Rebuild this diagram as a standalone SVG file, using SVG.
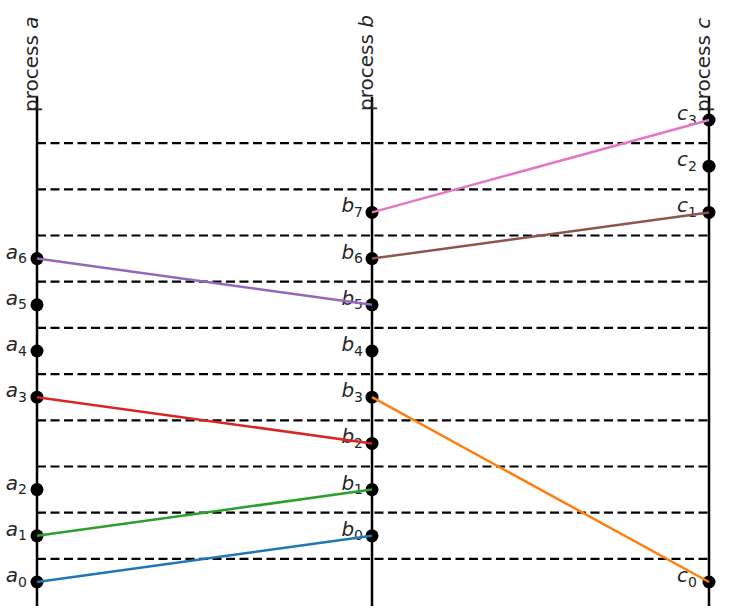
<svg xmlns="http://www.w3.org/2000/svg" width="744" height="616" viewBox="0 0 744 616">
<style>
.axis{stroke:#000;stroke-width:2.5;fill:none}
.dash{stroke:#000;stroke-width:2.2;stroke-dasharray:9,4.5;fill:none}
.msg{stroke-width:2.5;fill:none}
.dot{fill:#000}
.lbl{font-family:"DejaVu Sans",sans-serif;font-size:20px;fill:#262626;text-anchor:end}
.it{font-style:italic}
.sub{font-size:14px;font-style:normal}
.title{font-family:"DejaVu Sans",sans-serif;font-size:20px;fill:#262626}
</style>
<rect width="744" height="616" fill="#fff"/>
<g id="process-a">
<line class="axis" x1="37" y1="97" x2="37" y2="606"/>
<text class="title" transform="translate(38,112) rotate(-90)">process <tspan class="it">a</tspan></text>
</g>
<g id="process-b">
<line class="axis" x1="372" y1="97" x2="372" y2="606"/>
<text class="title" transform="translate(373,111) rotate(-90)">process <tspan class="it">b</tspan></text>
</g>
<g id="process-c">
<line class="axis" x1="709" y1="97" x2="709" y2="606"/>
<text class="title" transform="translate(710,112) rotate(-90)">process <tspan class="it">c</tspan></text>
</g>
<g id="time-slices">
<line class="dash" x1="37" y1="558.9" x2="709" y2="558.9"/>
<line class="dash" x1="37" y1="512.7" x2="709" y2="512.7"/>
<line class="dash" x1="37" y1="466.5" x2="709" y2="466.5"/>
<line class="dash" x1="37" y1="420.3" x2="709" y2="420.3"/>
<line class="dash" x1="37" y1="374.1" x2="709" y2="374.1"/>
<line class="dash" x1="37" y1="327.9" x2="709" y2="327.9"/>
<line class="dash" x1="37" y1="281.7" x2="709" y2="281.7"/>
<line class="dash" x1="37" y1="235.5" x2="709" y2="235.5"/>
<line class="dash" x1="37" y1="189.3" x2="709" y2="189.3"/>
<line class="dash" x1="37" y1="143.1" x2="709" y2="143.1"/>
</g>
<g id="events">
<g id="a0"><circle class="dot" cx="37" cy="582" r="6.5"/><text class="lbl" x="27" y="582"><tspan class="it">a</tspan><tspan class="sub" dy="4.5">0</tspan></text></g>
<g id="a1"><circle class="dot" cx="37" cy="535.8" r="6.5"/><text class="lbl" x="27" y="535.8"><tspan class="it">a</tspan><tspan class="sub" dy="4.5">1</tspan></text></g>
<g id="a2"><circle class="dot" cx="37" cy="489.6" r="6.5"/><text class="lbl" x="27" y="489.6"><tspan class="it">a</tspan><tspan class="sub" dy="4.5">2</tspan></text></g>
<g id="a3"><circle class="dot" cx="37" cy="397.2" r="6.5"/><text class="lbl" x="27" y="397.2"><tspan class="it">a</tspan><tspan class="sub" dy="4.5">3</tspan></text></g>
<g id="a4"><circle class="dot" cx="37" cy="351" r="6.5"/><text class="lbl" x="27" y="351"><tspan class="it">a</tspan><tspan class="sub" dy="4.5">4</tspan></text></g>
<g id="a5"><circle class="dot" cx="37" cy="304.8" r="6.5"/><text class="lbl" x="27" y="304.8"><tspan class="it">a</tspan><tspan class="sub" dy="4.5">5</tspan></text></g>
<g id="a6"><circle class="dot" cx="37" cy="258.6" r="6.5"/><text class="lbl" x="27" y="258.6"><tspan class="it">a</tspan><tspan class="sub" dy="4.5">6</tspan></text></g>
<g id="b0"><circle class="dot" cx="372" cy="535.8" r="6.5"/><text class="lbl" x="363" y="535.8"><tspan class="it">b</tspan><tspan class="sub" dy="4.5">0</tspan></text></g>
<g id="b1"><circle class="dot" cx="372" cy="489.6" r="6.5"/><text class="lbl" x="363" y="489.6"><tspan class="it">b</tspan><tspan class="sub" dy="4.5">1</tspan></text></g>
<g id="b2"><circle class="dot" cx="372" cy="443.4" r="6.5"/><text class="lbl" x="363" y="443.4"><tspan class="it">b</tspan><tspan class="sub" dy="4.5">2</tspan></text></g>
<g id="b3"><circle class="dot" cx="372" cy="397.2" r="6.5"/><text class="lbl" x="363" y="397.2"><tspan class="it">b</tspan><tspan class="sub" dy="4.5">3</tspan></text></g>
<g id="b4"><circle class="dot" cx="372" cy="351" r="6.5"/><text class="lbl" x="363" y="351"><tspan class="it">b</tspan><tspan class="sub" dy="4.5">4</tspan></text></g>
<g id="b5"><circle class="dot" cx="372" cy="304.8" r="6.5"/><text class="lbl" x="363" y="304.8"><tspan class="it">b</tspan><tspan class="sub" dy="4.5">5</tspan></text></g>
<g id="b6"><circle class="dot" cx="372" cy="258.6" r="6.5"/><text class="lbl" x="363" y="258.6"><tspan class="it">b</tspan><tspan class="sub" dy="4.5">6</tspan></text></g>
<g id="b7"><circle class="dot" cx="372" cy="212.4" r="6.5"/><text class="lbl" x="363" y="212.4"><tspan class="it">b</tspan><tspan class="sub" dy="4.5">7</tspan></text></g>
<g id="c0"><circle class="dot" cx="709" cy="582" r="6.5"/><text class="lbl" x="697" y="582"><tspan class="it">c</tspan><tspan class="sub" dy="4.5">0</tspan></text></g>
<g id="c1"><circle class="dot" cx="709" cy="212.4" r="6.5"/><text class="lbl" x="697" y="212.4"><tspan class="it">c</tspan><tspan class="sub" dy="4.5">1</tspan></text></g>
<g id="c2"><circle class="dot" cx="709" cy="166.2" r="6.5"/><text class="lbl" x="697" y="166.2"><tspan class="it">c</tspan><tspan class="sub" dy="4.5">2</tspan></text></g>
<g id="c3"><circle class="dot" cx="709" cy="120" r="6.5"/><text class="lbl" x="697" y="120"><tspan class="it">c</tspan><tspan class="sub" dy="4.5">3</tspan></text></g>
</g>
<g id="messages">
<line class="msg" stroke="#1f77b4" x1="37" y1="582" x2="372" y2="535.8"/>
<line class="msg" stroke="#2ca02c" x1="37" y1="535.8" x2="372" y2="489.6"/>
<line class="msg" stroke="#d62728" x1="37" y1="397.2" x2="372" y2="443.4"/>
<line class="msg" stroke="#ff7f0e" x1="372" y1="397.2" x2="709" y2="582"/>
<line class="msg" stroke="#9467bd" x1="37" y1="258.6" x2="372" y2="304.8"/>
<line class="msg" stroke="#8c564b" x1="372" y1="258.6" x2="709" y2="212.4"/>
<line class="msg" stroke="#e377c2" x1="372" y1="212.4" x2="709" y2="120"/>
</g>
</svg>
